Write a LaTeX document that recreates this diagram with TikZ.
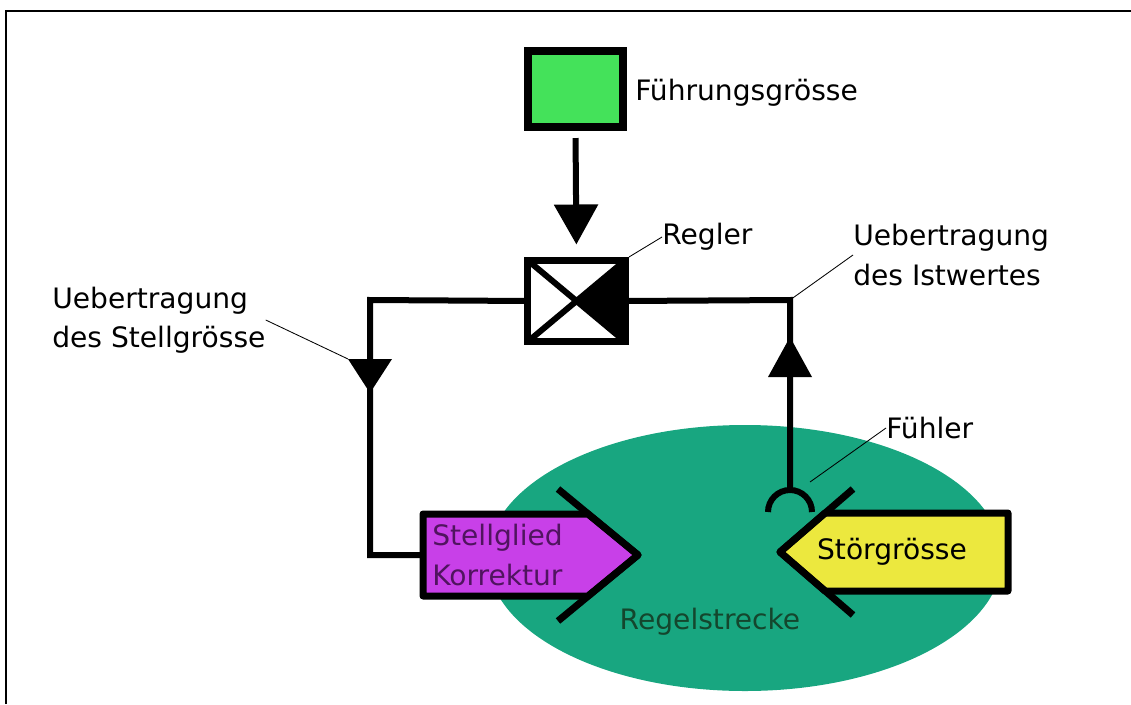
\documentclass[tikz,border=0pt]{standalone}
\usepackage{fontspec}
\setmainfont{DejaVu Sans}
\usetikzlibrary{arrows.meta}
\definecolor{fuehrgruen}{RGB}{68,226,90}
\definecolor{strecke}{RGB}{24,166,128}
\definecolor{stellviolett}{RGB}{200,64,232}
\definecolor{stelltext}{RGB}{80,20,95}
\definecolor{stoergelb}{RGB}{236,232,62}
\definecolor{streckentext}{RGB}{20,70,45}
\tikzset{flow/.style={line width=0.15cm},
%thick black border round the boxes
box/.style={draw=black, line width=0.175cm, inner sep=0pt},
lbl/.style={font=\fontsize{20}{28}\selectfont, align=left, inner sep=0pt},
leader/.style={line width=0.6pt}}

\begin{document}
\begin{tikzpicture}[x=0.025cm,y=-0.025cm]
\useasboundingbox (0,0) rectangle (1131,704);
% frame
\draw [line width=0.05cm] (6,704) -- (6,11) -- (1131,11);

% Regelstrecke
\fill [strecke] (745,558) ellipse [x radius=257, y radius=133];
\node [lbl, text=streckentext] (strecke) at (710,622) {Regelstrecke};

% Fuehrungsgroesse and Regler
\node [box, fill=fuehrgruen, line width=0.2cm, minimum width=2.375cm, minimum height=1.9cm] (fuehrung) at (575.5,89) {};
\node [lbl, anchor=west] (fuehrunglbl) at (635,93) {Führungsgrösse};
\node [fill=white, inner sep=0pt, outer sep=0pt, minimum width=2.425cm, minimum height=2.025cm] (regler) at (576.5,301) {};
\begin{scope}
\clip (regler.north west) rectangle (regler.south east);
\fill (regler.center) -- (regler.north east) -- (regler.south east) -- cycle;
\draw [flow] (regler.north west) -- (regler.south east) (regler.south west) -- (regler.north east);
\end{scope}
\draw [line width=0.175cm] (regler.north west) rectangle (regler.south east);
\node [lbl, anchor=west] (reglerlbl) at (662,237) {Regler};

%labels
\node [lbl, anchor=west] (istlbl) at (853,255) {Uebertragung\\des Istwertes};
\node [lbl, anchor=west] (stelllbl) at (52,320) {Uebertragung\\des Stellgrösse};
\node [lbl, anchor=west] (fuehlerlbl) at (886,428) {Fühler};

\coordinate (lcorner) at (370,300);
\coordinate (lfoot) at (370,555);
\coordinate (stellin) at (423,555);
\coordinate (rcorner) at (790,300);
\coordinate (fuehler) at (790,490);
\coordinate (fuehlerpt) at (810,482);
\coordinate (ltip) at (348,359);
\coordinate (reglerpt) at (629,257);

% Stellglied
\filldraw [fill=stellviolett, line width=0.175cm, line join=round] (423,514) -- (588,514) -- (638,555) -- (588,596) -- (423,596) -- cycle;
\draw [line width=0.175cm, line join=round] (558,489) -- (638,555) -- (558,621);
\node [lbl, anchor=west, text=stelltext] (stellglied) at (432,555) {Stellglied\\Korrektur};

% Stoergroesse
\filldraw [fill=stoergelb, line width=0.175cm, line join=round] (1008,513) -- (825,513) -- (780,552) -- (825,591) -- (1008,591) -- cycle;
\draw [line width=0.175cm, line join=round] (853,489) -- (780,552) -- (853,615);
\node [lbl] (stoer) at (892,552) {Störgrösse};

% Regelkreis
\draw [flow, -{Triangle[width=1.075cm,length=1cm]}, shorten <=0.175cm, shorten >=0.4cm] (fuehrung.south) -- (regler.north);
\draw [flow] (regler.west) -- (lcorner) -- (lfoot) -- (stellin);
\draw [flow] (regler.east) -- (rcorner) -- (fuehler);
\fill (348,359) -- (392,359) -- (370,393) -- cycle;
\fill (768,377) -- (812,377) -- (790,337) -- cycle;
\draw [flow] (768,512) arc [start angle=180, end angle=360, radius=22];

\draw [leader] (reglerpt) -- (reglerlbl.west);
\draw [leader] (rcorner) -- (istlbl.west);
\draw [leader] (stelllbl.east) -- (ltip);
\draw [leader] (fuehlerpt) -- (fuehlerlbl.west);
\end{tikzpicture}
\end{document}
